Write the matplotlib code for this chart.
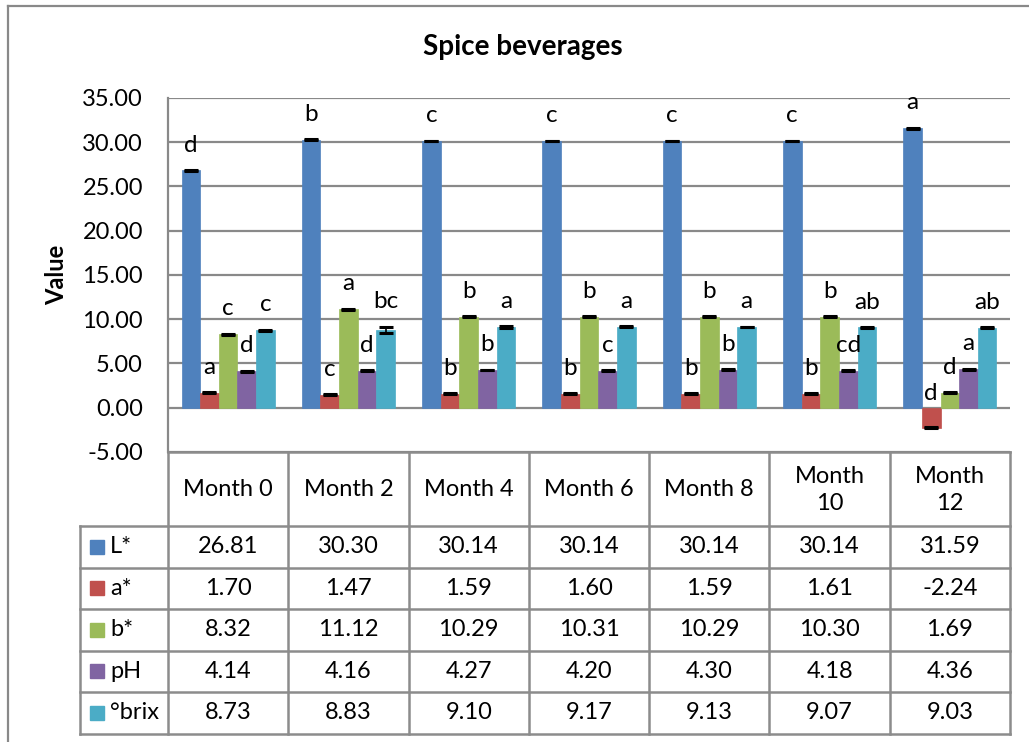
import matplotlib
matplotlib.use("Agg")
import matplotlib.pyplot as plt
import numpy as np

# ---------------- data ----------------
months = ["Month 0", "Month 2", "Month 4", "Month 6", "Month 8", "Month\n10", "Month\n12"]
series = ["L*", "a*", "b*", "pH", "°brix"]
L_vals = [26.81, 30.30, 30.14, 30.14, 30.14, 30.14, 31.59]
a_vals = [1.70, 1.47, 1.59, 1.60, 1.59, 1.61, -2.24]
b_vals = [8.32, 11.12, 10.29, 10.31, 10.29, 10.30, 1.69]
pH_vals = [4.14, 4.16, 4.27, 4.20, 4.30, 4.18, 4.36]
brix_vals = [8.73, 8.83, 9.10, 9.17, 9.13, 9.07, 9.03]

L_err = [0.05, 0.05, 0.05, 0.05, 0.05, 0.05, 0.05]
a_err = [0.05, 0.05, 0.05, 0.05, 0.05, 0.05, 0.05]
b_err = [0.05, 0.05, 0.05, 0.05, 0.05, 0.05, 0.05]
pH_err = [0.05, 0.05, 0.05, 0.05, 0.05, 0.05, 0.05]
brix_err = [0.1, 0.35, 0.1, 0.05, 0.05, 0.05, 0.05]

L_let = ["d", "b", "c", "c", "c", "c", "a"]
a_let = ["a", "c", "b", "b", "b", "b", "d"]
b_let = ["c", "a", "b", "b", "b", "b", "d"]
pH_let = ["d", "d", "b", "c", "b", "cd", "a"]
brix_let = ["c", "bc", "a", "a", "a", "ab", "ab"]

colors = ["#4F81BD", "#C0504D", "#9BBB59", "#8064A2", "#4BACC6"]
yticks = [-5, 0, 5, 10, 15, 20, 25, 30, 35]

values = [L_vals, a_vals, b_vals, pH_vals, brix_vals]
errs = [L_err, a_err, b_err, pH_err, brix_err]
letters = [L_let, a_let, b_let, pH_let, brix_let]

# ---------------- layout ----------------
W, H = 1029, 742
plt.rcParams['font.family'] = ['Lato', 'DejaVu Sans']
FS = 17
GRID = "#898989"

fig = plt.figure(figsize=(W / 100, H / 100), dpi=100)
fig.patch.set_facecolor("white")

px_l, px_r, px_t, px_b = 168, 1010, 98, 452
ax = fig.add_axes([px_l / W, 1 - px_b / H, (px_r - px_l) / W, (px_b - px_t) / H])

n = len(months)
x = np.arange(n)
bw = 0.155
for i, (vals, err, col, lets) in enumerate(zip(values, errs, colors, letters)):
    pos = x + (i - 2) * bw
    ax.bar(pos, vals, width=bw, color=col, edgecolor=col, linewidth=0.5, zorder=3)
    ax.errorbar(pos, vals, yerr=err, fmt="none", ecolor="black", elinewidth=1.2,
                capsize=5, capthick=2.2, zorder=4)
    for p, v, e, t in zip(pos, vals, err, lets):
        if v >= 0:
            ax.annotate(t, (p, v + e), xytext=(0, 18), textcoords="offset points",
                        ha="center", va="center", fontsize=FS + 0.5, zorder=5)
        else:
            ax.annotate(t, (p, 0), xytext=(0, 10), textcoords="offset points",
                        ha="center", va="center", fontsize=FS + 0.5, zorder=5)

ax.set_xlim(-0.5, n - 0.5)
ax.set_ylim(-5, 35)
ax.set_yticks(yticks)
ax.set_yticklabels([f"{t:.2f}" for t in yticks], fontsize=FS)
ax.tick_params(axis="y", length=0, pad=18)
ax.set_xticks([])
ax.grid(axis="y", color=GRID, linewidth=1.6, zorder=0)
for s in ["top", "right", "bottom"]:
    ax.spines[s].set_visible(False)
ax.spines["left"].set_color(GRID)
ax.spines["left"].set_linewidth(1.6)
ax.set_ylabel("Value", fontsize=FS, fontweight="bold", labelpad=10)

# ---------------- overlay for title, frame and data table ----------------
ov = fig.add_axes([0, 0, 1, 1], zorder=-1)
ov.set_xlim(0, W)
ov.set_ylim(H, 0)
ov.axis("off")

ov.plot([8, W], [6, 6], color=GRID, lw=1.6)
ov.plot([8, 8], [6, H], color=GRID, lw=1.6)
ov.text(523, 47, "Spice beverages", ha="center", va="center", fontsize=20,
        fontweight="bold")

col_w = (px_r - px_l) / n
row_y = [526, 567.5, 609, 650.5, 692, 733.5]
tl = 80
TCOL = "#8c8c8c"
# vertical lines
for j in range(n + 1):
    xx = px_l + j * col_w
    ov.plot([xx, xx], [px_b, row_y[-1]], color=TCOL, lw=1.8)
ov.plot([tl, tl], [row_y[0], row_y[-1]], color=TCOL, lw=1.8)
ov.plot([px_l, px_r], [px_b, px_b], color=TCOL, lw=1.8)
for yy in row_y:
    ov.plot([tl, px_r], [yy, yy], color=TCOL, lw=1.8)

# header
for j, m in enumerate(months):
    ov.text(px_l + (j + 0.5) * col_w, (px_b + row_y[0]) / 2 + 1, m, ha="center",
            va="center", fontsize=FS, linespacing=1.4)
# rows
for r, (name, vals, col) in enumerate(zip(series, values, colors)):
    yc = (row_y[r] + row_y[r + 1]) / 2
    ov.add_patch(plt.Rectangle((90, yc - 7), 14, 14, color=col))
    ov.text(110, yc, name, ha="left", va="center", fontsize=FS)
    for j, v in enumerate(vals):
        ov.text(px_l + (j + 0.5) * col_w, yc, f"{v:.2f}", ha="center", va="center",
                fontsize=FS)

fig.savefig("out.png", dpi=100, facecolor="white")
